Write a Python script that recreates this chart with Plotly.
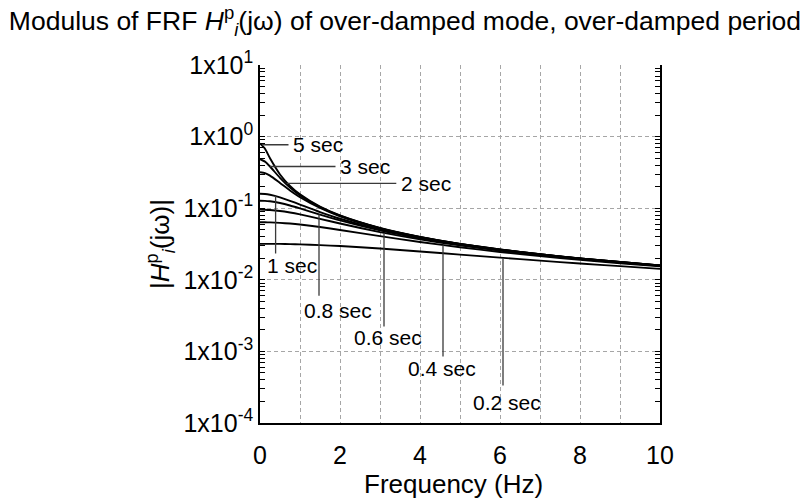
import math
import plotly.graph_objects as go

# ---------------- data ----------------
freq = [0, 0.125, 0.25, 0.5, 0.75, 1, 1.5, 2, 3, 4, 5, 6, 7, 8, 9, 10]

mod_5s = [0.80, 0.675, 0.497, 0.296, 0.205, 0.156, 0.105, 0.0792, 0.0529, 0.0397, 0.0318, 0.0265, 0.0227, 0.0199, 0.0177, 0.0159]
mod_3s = [0.485, 0.447, 0.382, 0.265, 0.194, 0.151, 0.1036, 0.0785, 0.0527, 0.0397, 0.0318, 0.0265, 0.0227, 0.0199, 0.0177, 0.0159]
mod_2s = [0.318, 0.309, 0.285, 0.225, 0.177, 0.142, 0.1007, 0.0772, 0.0523, 0.0395, 0.0317, 0.0264, 0.0227, 0.0199, 0.0177, 0.0159]
mod_1s = [0.159, 0.158, 0.154, 0.142, 0.127, 0.1125, 0.0883, 0.0712, 0.0503, 0.0386, 0.0312, 0.0262, 0.0225, 0.0197, 0.0176, 0.0158]
mod_08s = [0.127, 0.1267, 0.1248, 0.1182, 0.1092, 0.0994, 0.0815, 0.0675, 0.0490, 0.0380, 0.0309, 0.0260, 0.0224, 0.0197, 0.0175, 0.0158]
mod_06s = [0.0955, 0.0952, 0.0944, 0.0915, 0.0871, 0.0819, 0.0710, 0.0611, 0.0464, 0.0367, 0.0302, 0.0256, 0.0221, 0.0195, 0.0174, 0.0157]
mod_04s = [0.0637, 0.0636, 0.0633, 0.0624, 0.0610, 0.0591, 0.0546, 0.0497, 0.0408, 0.0337, 0.0285, 0.0245, 0.0214, 0.0190, 0.0170, 0.0154]
mod_02s = [0.0318, 0.0318, 0.0318, 0.0317, 0.0315, 0.0312, 0.0305, 0.0296, 0.0273, 0.0249, 0.0225, 0.0204, 0.0185, 0.0169, 0.0155, 0.0142]

series = [mod_5s, mod_3s, mod_2s, mod_1s, mod_08s, mod_06s, mod_04s, mod_02s]
period_labels = ["5 sec", "3 sec", "2 sec", "1 sec", "0.8 sec", "0.6 sec", "0.4 sec", "0.2 sec"]

# label anchor points on the curves (frequency, modulus)
label_freq = [0.05, 0.25, 0.67, 0.39, 1.475, 3.1, 4.575, 6.075]
label_mod = [0.77, 0.382, 0.222, 0.148, 0.0823, 0.0452, 0.0305, 0.0202]

ytick_vals = [1e-4, 1e-3, 1e-2, 1e-1, 1e0, 1e1]
ytick_text = ["1x10<sup>-4</sup>", "1x10<sup>-3</sup>", "1x10<sup>-2</sup>",
              "1x10<sup>-1</sup>", "1x10<sup>0</sup>", "1x10<sup>1</sup>"]
xtick_vals = [0, 2, 4, 6, 8, 10]

# ---------------- layout / style ----------------
FONT = "Liberation Sans, Arial, sans-serif"
GRID = "#a6a6a6"
DASH = "4px,3px"

# leader geometry: (line dx, line dy, text xshift, text yshift)
leaders = [
    (28, 0, 29, 0),
    (67, 0, 68, 0),
    (111, 0, 112, 0),
    (0, 59, -11, -69),
    (0, 83, -17, -96),
    (0, 95, -32, -105),
    (0, 113, -37, -123),
    (0, 129, -32, -145),
]

fig = go.Figure()
for vals, name in zip(series, period_labels):
    fig.add_trace(go.Scatter(x=freq, y=vals, mode="lines", name=name,
                             line=dict(color="black", width=1.9, shape="spline", smoothing=0.6),
                             showlegend=False, hoverinfo="skip"))

annotations = []
for f, m, txt, (dx, dy, tx, ty) in zip(label_freq, label_mod, period_labels, leaders):
    annotations.append(dict(x=f, y=math.log10(m), xref="x", yref="y", text="",
                            showarrow=True, arrowhead=0, arrowwidth=1.3, arrowcolor="#3a3a3a",
                            ax=dx, ay=dy, standoff=0, startstandoff=0))
    annotations.append(dict(x=f, y=math.log10(m), xref="x", yref="y", text=txt,
                            showarrow=False, xanchor="left", yanchor="middle",
                            xshift=tx, yshift=ty, font=dict(family=FONT, size=21, color="black")))

# x-axis title placed as a paper annotation below the tick labels
annotations.append(dict(x=0.4825, y=0, xref="paper", yref="paper", text="Frequency (Hz)",
                        showarrow=False, xanchor="center", yanchor="middle", yshift=-61,
                        font=dict(family=FONT, size=26, color="black")))

# the page body adds an 8px offset, so the figure is 8px smaller than the window
fig.update_layout(
    width=801, height=496,
    margin=dict(l=252, r=149, t=57, b=81),
    paper_bgcolor="white", plot_bgcolor="white",
    font=dict(family=FONT, color="black"),
    title=dict(text="Modulus of FRF <i>H</i><sup>p</sup><sub><i>i</i></sub>(jω) of over-damped mode, over-damped period",
               x=0.4956, xanchor="center", y=0.974, yanchor="middle",
               font=dict(family=FONT, size=26.5, color="black")),
    annotations=annotations,
)

fig.update_xaxes(
    range=[0, 10], tickmode="array", tickvals=xtick_vals,
    showline=True, linecolor="black", linewidth=1.5, mirror=False,
    ticks="", ticklabelstandoff=9,
    tickfont=dict(family=FONT, size=25, color="black"),
    showgrid=True, gridcolor=GRID, griddash=DASH, gridwidth=1,
    minor=dict(dtick=1, showgrid=True, gridcolor=GRID, griddash=DASH, gridwidth=1),
    zeroline=False,
)

fig.update_yaxes(
    type="log", range=[-4, 1], tickmode="array", tickvals=ytick_vals, ticktext=ytick_text,
    showline=True, linecolor="black", linewidth=1.5, mirror="ticks",
    ticks="inside", ticklen=5, tickcolor="black",
    tickfont=dict(family=FONT, size=25, color="black"),
    showgrid=True, gridcolor=GRID, griddash=DASH, gridwidth=1,
    minor=dict(dtick="D1", ticks="inside", ticklen=5, tickcolor="black", showgrid=False),
    zeroline=False,
    title=dict(text="|<i>H</i><sup>p</sup><sub><i>i</i></sub>(jω)|",
               font=dict(family=FONT, size=26, color="black"), standoff=6),
)

fig.write_html("out.html")
